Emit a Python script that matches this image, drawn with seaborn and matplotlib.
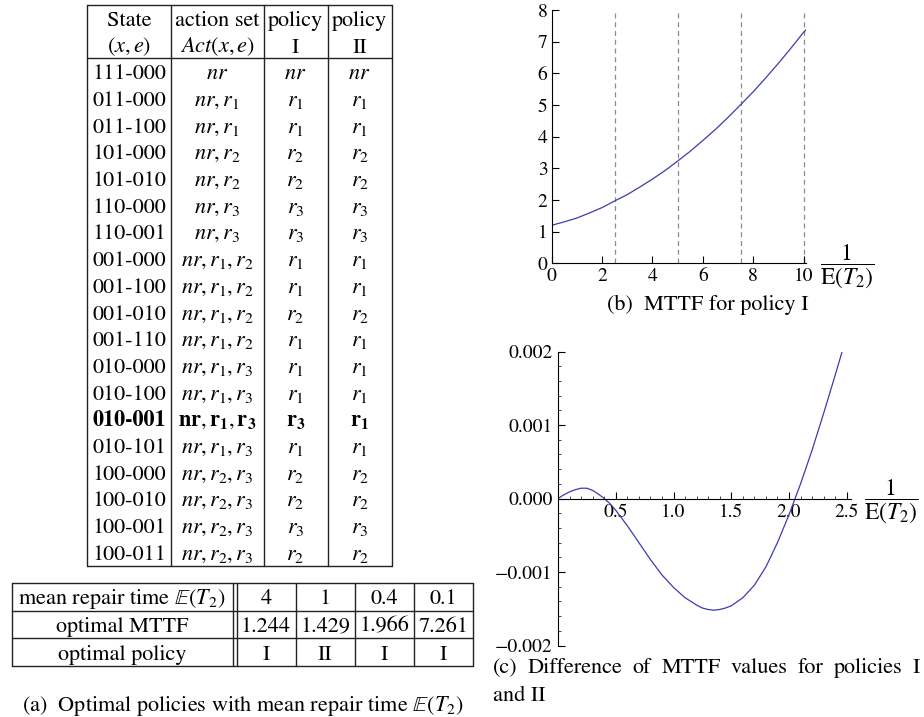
import matplotlib
matplotlib.use("Agg")
import matplotlib.pyplot as plt
from matplotlib.ticker import FixedLocator, FixedFormatter, MultipleLocator
import seaborn as sns

# Table (a): optimal policies per state
states = ["111-000", "011-000", "011-100", "101-000", "101-010", "110-000", "110-001",
          "001-000", "001-100", "001-010", "001-110", "010-000", "010-100", "010-001",
          "010-101", "100-000", "100-010", "100-001", "100-011"]
action_sets = ["nr", "nr,r1", "nr,r1", "nr,r2", "nr,r2", "nr,r3", "nr,r3",
               "nr,r1,r2", "nr,r1,r2", "nr,r1,r2", "nr,r1,r2",
               "nr,r1,r3", "nr,r1,r3", "nr,r1,r3", "nr,r1,r3",
               "nr,r2,r3", "nr,r2,r3", "nr,r2,r3", "nr,r2,r3"]
policy_one = ["nr", "r1", "r1", "r2", "r2", "r3", "r3", "r1", "r1", "r2", "r1",
              "r1", "r1", "r3", "r1", "r2", "r2", "r3", "r2"]
policy_two = ["nr", "r1", "r1", "r2", "r2", "r3", "r3", "r1", "r1", "r2", "r1",
              "r1", "r1", "r1", "r1", "r2", "r2", "r3", "r2"]
bold_state = "010-001"

repair_times = [4, 1, 0.4, 0.1]
optimal_mttf = [1.244, 1.429, 1.966, 7.261]
optimal_policy = ["I", "II", "I", "I"]

# (b) MTTF for policy I against 1/E(T2)
b_rate = [0, 0.5, 1, 1.5, 2, 2.5, 3, 3.5, 4, 4.5, 5, 5.5, 6, 6.5, 7, 7.5, 8, 8.5, 9, 9.5, 10, 10.1]
b_mttf = [1.20, 1.31, 1.43, 1.59, 1.76, 1.97, 2.17, 2.41, 2.66, 2.93, 3.23, 3.54, 3.88,
          4.23, 4.61, 5.01, 5.42, 5.86, 6.32, 6.80, 7.30, 7.38]
b_marks = [2.5, 5, 7.5, 10]
b_xticks = [0, 2, 4, 6, 8, 10]
b_yticks = [0, 1, 2, 3, 4, 5, 6, 7, 8]

# (c) difference of MTTF, policy I minus policy II
c_rate = [0, 0.05, 0.1, 0.15, 0.2, 0.25, 0.3, 0.35, 0.4, 0.45, 0.5, 0.6, 0.7, 0.8, 0.9,
          1.0, 1.1, 1.2, 1.25, 1.3, 1.35, 1.4, 1.45, 1.5, 1.6, 1.7, 1.8, 1.9, 2.0,
          2.1, 2.2, 2.3, 2.4, 2.46]
c_diff = [0.0, 0.00005, 0.00009, 0.00012, 0.00014, 0.00014, 0.00011, 0.00006, 0.00000,
          -0.00007, -0.00016, -0.00037, -0.00060, -0.00083, -0.00104, -0.00121,
          -0.00135, -0.00145, -0.00149, -0.00151, -0.00152, -0.00151, -0.00149,
          -0.00146, -0.00135, -0.00118, -0.00093, -0.00060, -0.00022, 0.00020,
          0.00066, 0.00116, 0.00168, 0.00200]
c_xticks = [0.5, 1.0, 1.5, 2.0, 2.5]
c_xticklabels = ["0.5", "1.0", "1.5", "2.0", "2.5"]
c_yticks = [-0.002, -0.001, 0.0, 0.001, 0.002]
c_yticklabels = ["\u22120.002", "\u22120.001", "0.000", "0.001", "0.002"]

sns.set_theme(style="ticks")
plt.rcParams["font.family"] = ["STIXGeneral", "DejaVu Serif"]
plt.rcParams["mathtext.fontset"] = "stix"
plt.rcParams["text.color"] = "black"

curve_color = "#3c3cb0"
FS = 16


def cell_math(cell, bold=False):
    parts = []
    for tok in cell.split(","):
        if tok == "nr":
            parts.append(r"\mathbf{nr}" if bold else "nr")
        elif bold:
            parts.append(r"\mathbf{r}_{\mathbf{%s}}" % tok[1])
        else:
            parts.append("r_{%s}" % tok[1])
    return "$" + ",".join(parts) + "$"


fig = plt.figure(figsize=(9.24, 7.17), dpi=100)

# overlay in pixel coordinates for the tables and captions
over = fig.add_axes([0, 0, 1, 1])
over.set_xlim(0, 924)
over.set_ylim(717, 0)
over.axis("off")
lc = dict(color="#222222", linewidth=1.0)


def put(x, yc, s, **kw):
    over.text(x, yc + 7.5, s, ha="center", va="baseline", fontsize=FS, **kw)


# top table
tx = [87.3, 170.7, 263.5, 327.5, 391.7]
top, pitch = 5, 26.7
bottom = top + (len(states) + 2) * pitch
for y in [top, top + 2 * pitch, bottom]:
    over.plot([tx[0], tx[-1]], [y, y], **lc)
for x in tx:
    over.plot([x, x], [top, bottom], **lc)
cx = [(tx[i] + tx[i + 1]) / 2 for i in range(4)]
head1 = ["State", "action set", "policy", "policy"]
head2 = [r"$(x,e)$", r"$Act(x,e)$", "I", "II"]
for i in range(4):
    put(cx[i], top + pitch / 2, head1[i])
    put(cx[i], top + 1.5 * pitch, head2[i])
for k, st in enumerate(states):
    yc = top + (k + 2.5) * pitch
    bold = st == bold_state
    put(cx[0], yc, st, fontweight="bold" if bold else "normal")
    put(cx[1], yc, cell_math(action_sets[k], bold))
    put(cx[2], yc, cell_math(policy_one[k], bold))
    put(cx[3], yc, cell_math(policy_two[k], bold))

# small table
sx = [11.7, 232.5, 236.5, 295.5, 354.5, 413.5, 472.7]
stop, spitch = 582.7, 27.8
for j in range(4):
    y = stop + j * spitch
    over.plot([sx[0], sx[-1]], [y, y], **lc)
for x in sx:
    over.plot([x, x], [stop, stop + 3 * spitch], **lc)
row_names = [r"mean repair time $\mathbb{E}(T_2)$", "optimal MTTF", "optimal policy"]
row_vals = [[str(v) for v in repair_times],
            ["%.3f" % v for v in optimal_mttf],
            optimal_policy]
for r in range(3):
    yc = stop + (r + 0.5) * spitch
    put((sx[0] + sx[1]) / 2, yc, row_names[r])
    for j in range(4):
        put((sx[j + 2] + sx[j + 3]) / 2, yc, row_vals[r][j])

# captions
over.text(242.5, 711, r"(a)  Optimal policies with mean repair time $\mathbb{E}(T_2)$",
          ha="center", va="baseline", fontsize=FS)
over.text(708, 310, "(b)  MTTF for policy I", ha="center", va="baseline", fontsize=FS)

words = ["(c)", "Difference", "of", "MTTF", "values", "for", "policies", "I"]
texts = [over.text(0, 673, w, ha="left", va="baseline", fontsize=FS) for w in words]
renderer = fig.canvas.get_renderer()
widths = [t.get_window_extent(renderer).width for t in texts]
gap = (920 - 493 - sum(widths)) / (len(words) - 1)
xpos = 493
for t, w in zip(texts, widths):
    t.set_x(xpos)
    xpos += w + gap
over.text(493, 701, "and II", ha="left", va="baseline", fontsize=FS)

frac = r"$\dfrac{1}{\mathrm{E}(T_2)}$"
over.text(847, 266, frac, ha="center", va="center", fontsize=17)
over.text(891.5, 501.5, frac, ha="center", va="center", fontsize=17)

# (b) plot
ax_b = fig.add_axes([551.7 / 924, (717 - 263.3) / 717, 254.5 / 924, 253.3 / 717])
for m in b_marks:
    ax_b.axvline(m, color="#8c8c8c", linestyle=(0, (4, 3)), linewidth=0.9, zorder=0)
sns.lineplot(x=b_rate, y=b_mttf, ax=ax_b, color=curve_color, linewidth=0.9)
ax_b.set_xlim(0, 10.1)
ax_b.set_ylim(0, 8)
ax_b.set_xticks(b_xticks)
ax_b.set_yticks(b_yticks)
ax_b.set_xticklabels([str(v) for v in b_xticks])
ax_b.set_yticklabels([str(v) for v in b_yticks])
ax_b.tick_params(direction="in", length=5, width=0.8, labelsize=14, pad=3, colors="black")

# (c) plot
ax_c = fig.add_axes([558 / 924, (717 - 645.5) / 717, 293.4 / 924, 294 / 717])
sns.lineplot(x=c_rate, y=c_diff, ax=ax_c, color=curve_color, linewidth=0.9)
ax_c.set_xlim(0, 2.54)
ax_c.set_ylim(-0.002, 0.002)
ax_c.spines["bottom"].set_position(("data", 0))
ax_c.xaxis.set_major_locator(FixedLocator(c_xticks))
ax_c.xaxis.set_major_formatter(FixedFormatter(c_xticklabels))
ax_c.yaxis.set_major_locator(FixedLocator(c_yticks))
ax_c.yaxis.set_major_formatter(FixedFormatter(c_yticklabels))
ax_c.xaxis.set_minor_locator(MultipleLocator(0.1))
ax_c.yaxis.set_minor_locator(MultipleLocator(0.0002))
ax_c.tick_params(which="major", direction="in", length=5, width=0.8, labelsize=14,
                 pad=4, colors="black")
ax_c.tick_params(which="minor", direction="in", length=2.5, width=0.6)

for ax in (ax_b, ax_c):
    ax.set_xlabel("")
    ax.set_ylabel("")
    ax.patch.set_alpha(0)
    for side in ("top", "right"):
        ax.spines[side].set_visible(False)
    for side in ("left", "bottom"):
        ax.spines[side].set_color("black")
        ax.spines[side].set_linewidth(0.8)

fig.savefig("out.png", dpi=100)
